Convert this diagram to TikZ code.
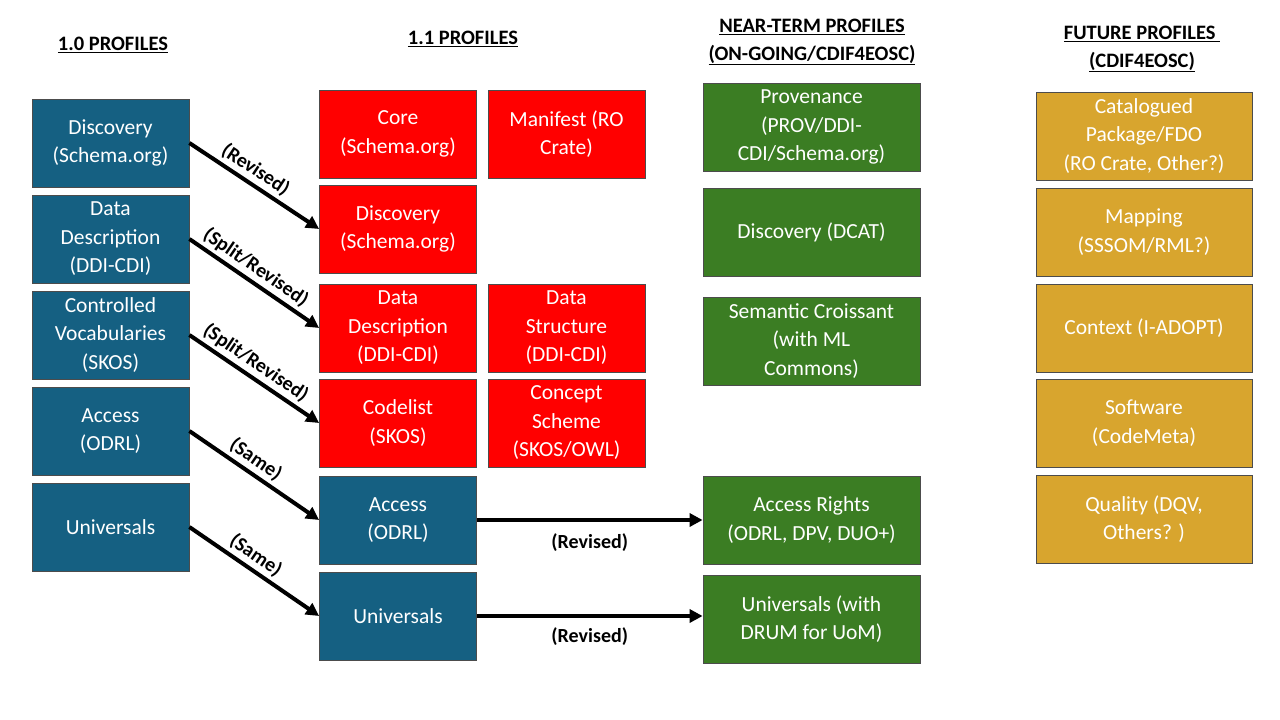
\documentclass[tikz,border=0pt]{standalone}
\usepackage{fontspec}
\setmainfont{Carlito}
\usetikzlibrary{arrows.meta}
\definecolor{cblue}{HTML}{156082}
\definecolor{cred}{HTML}{FF0000}
\definecolor{cgreen}{HTML}{3B7D23}
\definecolor{cgold}{HTML}{D8A52E}
\begin{document}
\begin{tikzpicture}[x=1pt,y=-1pt,
 box/.style={draw=black!70,line width=0.8pt,text=white,align=center,inner sep=0pt,
   font=\fontsize{21.5}{28.5}\selectfont},
 bl/.style={box,fill=cblue,minimum width=157pt,minimum height=88pt},
 rd/.style={box,fill=cred,minimum width=157pt,minimum height=88pt},
 gr/.style={box,fill=cgreen,minimum width=217pt,minimum height=88pt},
 gd/.style={box,fill=cgold,minimum width=216pt,minimum height=88pt},
 hd/.style={font=\bfseries\fontsize{20.5}{28}\selectfont,align=center},
 arr/.style={line width=4pt,-{Triangle[length=13pt,width=13pt]}},
 lab/.style={font=\bfseries\fontsize{20}{22}\selectfont}]
\path[use as bounding box] (0,0) rectangle (1280,720);
\node[hd] (h1) at (113,45) {\underline{1.0 PROFILES}};
\node[hd] (h2) at (463,39) {\underline{1.1 PROFILES}};
\node[hd] (h3) at (812,42) {\underline{NEAR-TERM PROFILES}\\\underline{(ON-GOING/CDIF4EOSC)}};
\node[hd] (h4) at (1142,49) {\underline{FUTURE PROFILES\ }\\\underline{(CDIF4EOSC)}};
% col1
\node[bl] (a1) at (110.5,143) {Discovery\\(Schema.org)};
\node[bl] (a2) at (110.5,239) {Data\\Description\\(DDI-CDI)};
\node[bl] (a3) at (110.5,335) {Controlled\\Vocabularies\\(SKOS)};
\node[bl] (a4) at (110.5,431) {Access\\(ODRL)};
\node[bl] (a5) at (110.5,527) {Universals};
% col2
\node[rd] (b1) at (398,134) {Core\\(Schema.org)};
\node[rd] (c1) at (566.5,134) {Manifest (RO\\Crate)};
\node[rd] (b2) at (398,229) {Discovery\\(Schema.org)};
\node[rd] (b3) at (398,328) {Data\\Description\\(DDI-CDI)};
\node[rd] (c3) at (566.5,328) {Data\\Structure\\(DDI-CDI)};
\node[rd] (b4) at (398,423) {Codelist\\(SKOS)};
\node[rd] (c4) at (566.5,423) {Concept\\Scheme\\(SKOS/OWL)};
\node[bl] (b5) at (398,520) {Access\\(ODRL)};
\node[bl] (b6) at (398,616) {Universals};
% col3
\node[gr] (g1) at (811.5,127) {Provenance\\(PROV/DDI-\\CDI/Schema.org)};
\node[gr] (g2) at (811.5,232) {Discovery (DCAT)};
\node[gr] (g3) at (811.5,341) {Semantic Croissant\\(with ML\\Commons)};
\node[gr] (g4) at (811.5,520) {Access Rights\\(ODRL, DPV, DUO+)};
\node[gr] (g5) at (811.5,619) {Universals (with\\DRUM for UoM)};
% col4
\node[gd] (f1) at (1144,136) {Catalogued\\Package/FDO\\(RO Crate, Other?)};
\node[gd] (f2) at (1144,232) {Mapping\\(SSSOM/RML?)};
\node[gd] (f3) at (1144,328) {Context (I-ADOPT)};
\node[gd] (f4) at (1144,423) {Software\\(CodeMeta)};
\node[gd] (f5) at (1144,519) {Quality (DQV,\\Others? )};
% arrows
\draw[arr] (a1.east) -- node[lab,sloped,above,pos=0.45]{(Revised)} (b2.west);
\draw[arr] (a2.east) -- node[lab,sloped,above,pos=0.45]{(Split/Revised)} (b3.west);
\draw[arr] (a3.east) -- node[lab,sloped,above,pos=0.45]{(Split/Revised)} (b4.west);
\draw[arr] (a4.east) -- node[lab,sloped,above,pos=0.45]{(Same)} (b5.west);
\draw[arr] (a5.east) -- node[lab,sloped,above,pos=0.45]{(Same)} (b6.west);
\draw[arr] (b5.east) -- node[lab,below=8pt]{(Revised)} (g4.west);
\draw[arr] (b6.east) -- node[lab,below=6pt]{(Revised)} (b6.east -| g5.west);
\end{tikzpicture}
\end{document}
